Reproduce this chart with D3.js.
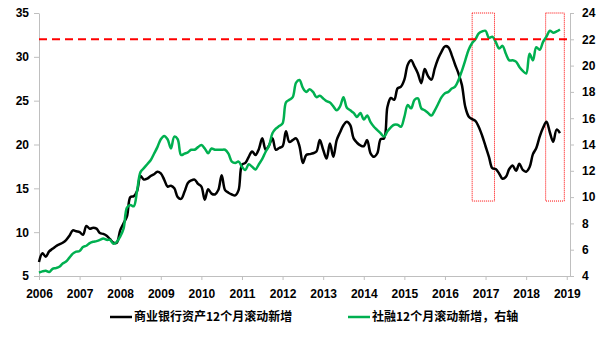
<!DOCTYPE html>
<html>
<head>
<meta charset="utf-8">
<script src="https://cdn.jsdelivr.net/npm/d3@7/dist/d3.min.js"></script>
<style>
  html, body { margin: 0; padding: 0; background: #fff; }
  svg { display: block; }
  .tick text { font-family: "Liberation Sans", Arial, sans-serif; font-weight: bold; font-size: 12px; fill: #000; }
  .legend text { font-family: "Noto Sans CJK SC", sans-serif; font-weight: bold; font-size: 12px; fill: #000; }
</style>
</head>
<body>
<svg id="chart" width="600" height="339"></svg>
<script>
// Monthly series starting January 2006
const startYear = 2006;

// 商业银行资产12个月滚动新增 (left axis)
const bankAssets = [
  6.6, 7.6, 7.2, 7.8, 8.1, 8.4, 8.6, 8.8, 9.1, 9.6, 10.2, 10.1,
  10.0, 9.7, 10.7, 10.4, 10.5, 10.4, 9.9, 9.8, 9.6, 9.2, 8.8, 8.8,
  10.2, 11.0, 11.8, 14.0, 14.1, 14.7, 16.4, 16.0, 16.1, 16.4, 16.6, 16.9,
  16.7, 16.0, 15.2, 15.3, 15.0, 14.0, 13.8, 14.6, 15.6, 15.9, 16.0, 15.5,
  15.2, 13.7, 14.9, 14.4, 14.3, 14.8, 16.5, 14.8, 14.5, 14.3, 14.2, 14.8,
  17.7, 17.9, 18.6, 19.2, 18.8, 19.5, 20.7, 19.4, 19.9, 20.7, 19.4, 19.6,
  19.8, 21.5, 20.3, 20.5, 20.7, 19.8, 17.9, 18.8, 18.9, 19.0, 19.2, 20.5,
  19.4, 18.4, 20.1, 18.6, 20.5, 21.4, 22.2, 22.6, 22.2, 20.7, 20.2, 19.9,
  19.8, 20.5, 19.0, 18.6, 19.0, 20.6, 20.7, 24.3, 25.3, 25.1, 26.4, 26.6,
  27.4, 29.1, 29.6, 28.9, 28.1, 27.0, 28.6, 27.8, 27.4, 28.7, 29.8, 30.6,
  31.2, 31.1, 30.2, 29.1, 28.1, 26.8, 24.3, 23.2, 22.9, 22.7, 22.0, 21.0,
  19.8, 18.6, 17.3, 17.2, 16.7, 16.1, 16.3, 17.2, 17.6, 17.0, 17.8, 17.1,
  16.9, 17.4, 18.9, 19.6, 20.9, 21.9, 22.6, 21.4, 20.3, 21.7, 21.3
];

// 社融12个月滚动新增 (right axis)
const socialFinancing = [
  4.25, 4.35, 4.4, 4.3, 4.55, 4.6, 4.7, 4.95, 5.1, 5.4, 5.7, 5.85,
  5.9, 6.2, 6.3, 6.5, 6.6, 6.65, 6.75, 6.85, 6.75, 6.74, 6.45, 6.6,
  7.0, 7.6, 9.2, 9.4, 9.3, 10.5, 11.9, 12.2, 12.5, 12.8, 13.3, 13.8,
  14.4, 14.65, 14.4, 13.7, 14.6, 14.4, 13.2, 13.3, 13.4, 13.6, 13.6, 13.8,
  13.96, 13.7, 13.33, 13.7, 13.6, 13.6, 13.6, 13.6, 13.3, 12.7, 12.6, 12.7,
  12.3, 12.06, 12.5, 12.3, 12.1, 12.5, 12.9, 13.45, 13.9, 14.85, 15.2, 15.4,
  15.6, 17.2, 17.4, 17.6, 18.7, 18.9, 18.3, 18.0, 18.2, 18.0, 17.6, 17.7,
  17.5, 17.3, 17.2, 16.9, 16.6, 16.9, 17.6, 16.8, 16.6, 16.4, 16.1, 16.4,
  15.9, 16.2, 15.7, 15.35, 15.1, 14.85, 14.6, 15.0, 15.3, 15.5, 15.5, 15.35,
  16.1, 17.0, 16.75, 17.4, 17.5, 16.75, 16.6, 16.4, 16.2, 16.6, 17.1, 17.6,
  17.9, 18.0, 18.25, 18.4, 18.9, 19.6, 20.4, 21.2, 21.7, 22.0, 22.45, 22.6,
  22.65, 22.1, 22.2, 21.8, 21.3, 21.5, 20.9, 20.4, 20.4, 20.3, 19.9, 19.6,
  19.4, 20.9, 20.4, 21.4, 21.2, 21.8, 22.2, 22.65, 22.5, 22.6, 22.75
];

const yearTicks = d3.range(2006, 2020);
const leftTicks = [5, 10, 15, 20, 25, 30, 35];
const rightTicks = [4, 6, 8, 10, 12, 14, 16, 18, 20, 22, 24];

// Reference level on the right axis, and the two highlighted periods
const thresholdRight = 22;
const highlightSpans = [
  { from: 2016.67, to: 2017.22, low: 9.7, high: 24 },
  { from: 2018.48, to: 2018.94, low: 9.7, high: 24 }
];

const legendItems = [
  { label: "商业银行资产12个月滚动新增", color: "#000000" },
  { label: "社融12个月滚动新增，右轴", color: "#00B050" }
];

const svg = d3.select("#chart");
const plot = { left: 39, right: 570, top: 13, bottom: 276 };

const x = d3.scaleLinear().domain([2006, 2019.08]).range([plot.left, plot.right]);
const yLeft = d3.scaleLinear().domain([5, 35]).range([plot.bottom, plot.top]);
const yRight = d3.scaleLinear().domain([4, 24]).range([plot.bottom, plot.top]);

const monthTime = i => startYear + i / 12;
const axisGray = "#BFBFBF";

// Axes
const gLeft = svg.append("g").attr("transform", `translate(${plot.left},0)`)
  .call(d3.axisLeft(yLeft).tickValues(leftTicks).tickSize(5).tickSizeOuter(0).tickPadding(5).tickFormat(d3.format("d")));
const gRight = svg.append("g").attr("transform", `translate(${plot.right},0)`)
  .call(d3.axisRight(yRight).tickValues(rightTicks).tickSize(4).tickSizeOuter(0).tickPadding(8).tickFormat(d3.format("d")));
const gBottom = svg.append("g").attr("transform", `translate(0,${plot.bottom})`)
  .call(d3.axisBottom(x).tickValues(yearTicks).tickSize(4).tickSizeOuter(0).tickPadding(9).tickFormat(d3.format("d")));

[gLeft, gRight, gBottom].forEach(g => {
  g.select(".domain").attr("stroke", axisGray).attr("stroke-width", 1);
  g.selectAll(".tick line").attr("stroke", axisGray);
});

// Highlight boxes
svg.append("g").selectAll("rect").data(highlightSpans).join("rect")
  .attr("x", d => x(d.from))
  .attr("y", d => yRight(d.high))
  .attr("width", d => x(d.to) - x(d.from))
  .attr("height", d => yRight(d.low) - yRight(d.high))
  .attr("fill", "none")
  .attr("stroke", "#FF0000")
  .attr("stroke-width", 1)
  .attr("stroke-dasharray", "1,1");

// Series lines
const lineLeft = d3.line().x((d, i) => x(monthTime(i))).y(d => yLeft(d)).curve(d3.curveCatmullRom.alpha(0.5));
const lineRight = d3.line().x((d, i) => x(monthTime(i))).y(d => yRight(d)).curve(d3.curveCatmullRom.alpha(0.5));

svg.append("path").datum(bankAssets)
  .attr("d", lineLeft).attr("fill", "none")
  .attr("stroke", legendItems[0].color).attr("stroke-width", 2.5)
  .attr("stroke-linejoin", "round");

svg.append("path").datum(socialFinancing)
  .attr("d", lineRight).attr("fill", "none")
  .attr("stroke", legendItems[1].color).attr("stroke-width", 2.5)
  .attr("stroke-linejoin", "round");

// Dashed reference line
svg.append("line")
  .attr("x1", plot.left).attr("x2", plot.right)
  .attr("y1", yRight(thresholdRight)).attr("y2", yRight(thresholdRight))
  .attr("stroke", "#FF0000").attr("stroke-width", 2)
  .attr("stroke-dasharray", "8,5");

// Legend
const legendPos = [110, 348];
const legend = svg.append("g").attr("class", "legend");
legendItems.forEach((item, i) => {
  const g = legend.append("g").attr("transform", `translate(${legendPos[i]},317)`);
  g.append("line").attr("x1", 0).attr("x2", 22).attr("y1", 0).attr("y2", 0)
    .attr("stroke", item.color).attr("stroke-width", 2.5);
  g.append("text").attr("x", 24).attr("y", 0).attr("dy", "0.36em").text(item.label);
});
</script>
</body>
</html>
